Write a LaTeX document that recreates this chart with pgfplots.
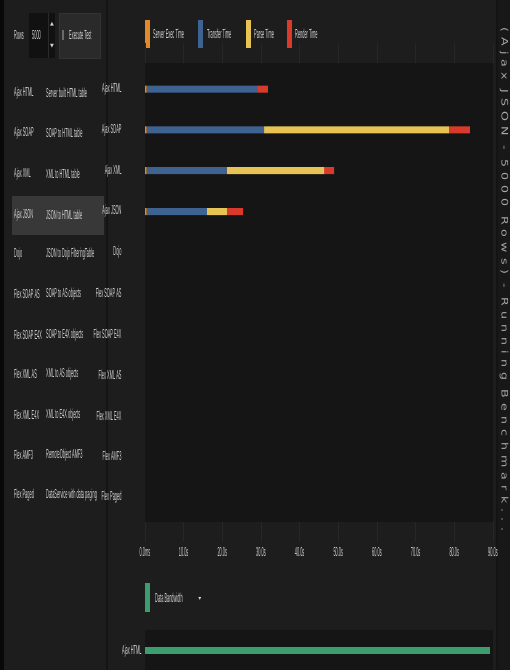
\documentclass[border=0pt]{standalone}
\usepackage{pgfplots}
\pgfplotsset{compat=1.18}
\usepackage{fontspec}
\setmainfont{Liberation Sans}
\newfontfamily\narrow[FakeStretch=0.3]{Liberation Sans}
\newfontfamily\widefont[FakeStretch=1.4,LetterSpace=58]{DejaVu Sans}
\newfontfamily\symfont{DejaVu Sans}
\newcommand\ui{\narrow\fontsize{13}{15}\selectfont}
\definecolor{bg}{HTML}{1D1D1D}
\definecolor{plotbg}{HTML}{151515}
\definecolor{strip}{HTML}{080808}
\definecolor{txt}{HTML}{D4D4D4}
\definecolor{dimtxt}{HTML}{A8A8A8}
\definecolor{sel}{HTML}{383838}
\definecolor{cOrange}{HTML}{E08A2C}
\definecolor{cBlue}{HTML}{3F6391}
\definecolor{cYellow}{HTML}{E6C354}
\definecolor{cRed}{HTML}{D93A2C}
\definecolor{cGreen}{HTML}{3C9E6F}
\definecolor{tickc}{HTML}{272727}
\definecolor{sep}{HTML}{141414}
\definecolor{spin}{HTML}{111111}
\definecolor{btn}{HTML}{2A2A2A}
\definecolor{btnedge}{HTML}{333333}
\definecolor{rstrip}{HTML}{181818}
\definecolor{icon}{HTML}{6A6A6A}
\begin{document}
\begin{tikzpicture}
\useasboundingbox (0pt,0pt) rectangle (510pt,-670pt);
\clip (0pt,0pt) rectangle (510pt,-670pt);
\begin{scope}[x=1pt,y=-1pt]
\fill[bg] (0,0) rectangle (510,670);
\fill[strip] (0,0) rectangle (4,670);
\fill[sep] (106,0) rectangle (108,670);
\fill[sep] (496,0) rectangle (498,670);
\fill[rstrip] (498,0) rectangle (510,670);
% top bar
\node[anchor=west,inner sep=0,font=\ui,text=txt] at (14,35) {Rows};
\fill[spin] (29,13) rectangle (55,58);
\draw[btn] (48,13) -- (48,58);
\node[anchor=west,inner sep=0,font=\ui,text=txt] at (32,35) {5000};
\node[inner sep=0,font=\symfont\fontsize{5}{6}\selectfont,text=txt] at (52,24) {▲};
\node[inner sep=0,font=\symfont\fontsize{5}{6}\selectfont,text=txt] at (52,46) {▼};
\fill[btn] (59,13) rectangle (100,58);
\draw[btnedge] (59,13) rectangle (100,58);
\fill[icon] (62,30) rectangle (63.5,40);
\node[anchor=west,inner sep=0,font=\ui,text=txt] at (69,35) {Execute Test};
% legend
\fill[cOrange] (145,20) rectangle (150,48);
\node[anchor=west,inner sep=0,font=\ui,text=txt] at (153,34) {Server Exec Time};
\fill[cBlue] (198,20) rectangle (203,48);
\node[anchor=west,inner sep=0,font=\ui,text=txt] at (207,34) {Transfer Time};
\fill[cYellow] (246,20) rectangle (251,48);
\node[anchor=west,inner sep=0,font=\ui,text=txt] at (254,34) {Parse Time};
\fill[cRed] (287,20) rectangle (292,48);
\node[anchor=west,inner sep=0,font=\ui,text=txt] at (295,34) {Render Time};
% left list
\fill[sel] (12,196) rectangle (104,235);
\foreach \n/\d/\y in {Ajax HTML/Server built HTML table/93, Ajax SOAP/SOAP to HTML table/133, Ajax XML/XML to HTML table/174, Ajax JSON/JSON to HTML table/215, Dojo/JSON to Dojo FilteringTable/254, Flex SOAP AS/SOAP to AS objects/294, Flex SOAP E4X/SOAP to E4X objects/335, Flex XML AS/XML to AS objects/374, Flex XML E4X/XML to E4X objects/415, Flex AMF3/RemoteObject AMF3/455, Flex Paged/DataService with data paging/495}{
  \node[anchor=west,inner sep=0,font=\ui,text=txt] at (14,\y) {\n};
  \node[anchor=west,inner sep=0,font=\ui,text=txt] at (46,\y) {\d};
}
% data bandwidth legend
\fill[cGreen] (145,583) rectangle (150,612);
\node[anchor=west,inner sep=0,font=\ui,text=txt] at (155,598) {Data Bandwidth};
\node[inner sep=0,font=\symfont\fontsize{6}{7}\selectfont,text=txt] at (200,599) {▾};
% right status text
\node[rotate=-90,anchor=west,inner sep=0,font=\widefont\fontsize{9}{10}\selectfont,text=dimtxt] at (504,27) {(Ajax JSON - 5000 Rows) - Running Benchmark...};
\end{scope}

\begin{axis}[
  at={(145pt,-522pt)}, anchor=south west,
  scale only axis, width=348pt, height=459pt,
  xmin=0, xmax=90, ymin=-0.61, ymax=10.64,
  xbar stacked, bar width=7pt,
  axis background/.style={fill=plotbg},
  axis line style={draw=none},
  ytick={0,1,...,10},
  yticklabels={Flex Paged,Flex AMF3,Flex XML E4X,Flex XML AS,Flex SOAP E4X,Flex SOAP AS,Dojo,Ajax JSON,Ajax XML,Ajax SOAP,Ajax HTML},
  xtick={0,10,...,90},
  xticklabels={0.0ms,10.0s,20.0s,30.0s,40.0s,50.0s,60.0s,70.0s,80.0s,90.0s},
  tick label style={font=\ui, text=txt},
  x tick label style={yshift=-2pt},
  ytick style={draw=none},
  xtick style={draw=tickc, line width=0.8pt},
  tick align=outside, major tick length=20pt,
  clip=false,
]
\addplot[fill=cOrange, draw=none] coordinates {(0.4,10) (0.4,9) (0.4,8) (0.4,7)};
\addplot[fill=cBlue, draw=none] coordinates {(28.8,10) (30.4,9) (20.7,8) (15.6,7)};
\addplot[fill=cYellow, draw=none] coordinates {(0,10) (47.8,9) (25.2,8) (5.2,7)};
\addplot[fill=cRed, draw=none] coordinates {(2.6,10) (5.4,9) (2.6,8) (4.1,7)};
\end{axis}

\begin{axis}[
  at={(145pt,-630pt)}, anchor=north west,
  scale only axis, width=348pt, height=100pt,
  xmin=0, xmax=90, ymin=-1.94, ymax=0.515,
  xbar, bar width=7pt,
  axis background/.style={fill=plotbg},
  axis line style={draw=none},
  ytick={0}, yticklabels={Ajax HTML},
  xtick=\empty,
  tick label style={font=\ui, text=txt},
  ytick style={draw=none},
  major tick length=0pt,
]
\addplot[fill=cGreen, draw=none] coordinates {(89.2,0)};
\end{axis}
\end{tikzpicture}
\end{document}
